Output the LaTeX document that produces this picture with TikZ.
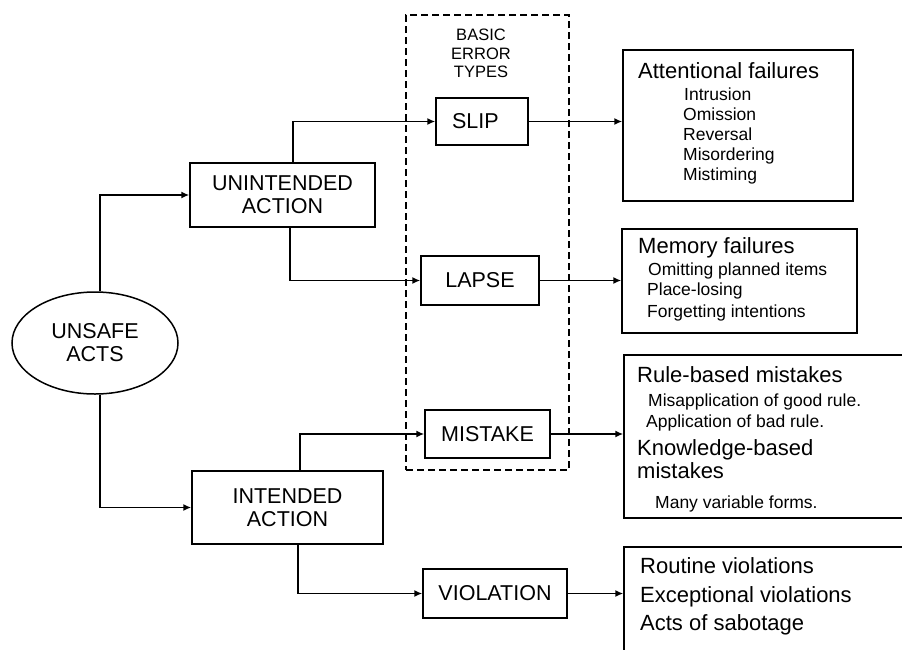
\documentclass[tikz,border=0pt]{standalone}
\usepackage{fontspec}
\setmainfont{Liberation Sans}
\usetikzlibrary{shapes.geometric,arrows.meta}
\begin{document}
\begin{tikzpicture}[x=1pt,y=-1pt,
  lbl/.style={font=\fontsize{21.5}{23}\selectfont,align=center},
  box/.style={draw,line width=1.5pt,rectangle,inner sep=0pt,lbl},
  rbox/.style={draw,line width=1.5pt,rectangle,inner sep=0pt},
  conn/.style={line width=1.5pt,-{Latex[length=8pt,width=7pt]}},
  hd/.style={anchor=base west,inner sep=0pt,font=\fontsize{22}{24}\selectfont},
  itm/.style={anchor=base west,inner sep=0pt,font=\fontsize{17.5}{20}\selectfont},
]
\clip (0,0) rectangle (902,649);
\fill[white] (0,0) rectangle (902,649);

% dashed frame
\node[draw,dash pattern=on 7pt off 4pt,line width=1.3pt,rectangle,minimum width=163pt,minimum height=455pt,inner sep=0pt] (frame) at (487.5,242.5) {};
\node[anchor=north,inner sep=0pt,align=center,font=\fontsize{16.5}{18.5}\selectfont] (bet) at (481,29) {BASIC\\ERROR\\TYPES};

% left nodes
\node[draw,ellipse,line width=1.5pt,minimum width=166pt,minimum height=102pt,inner sep=0pt,lbl] (unsafe) at (95,343) {UNSAFE\\ACTS};
\node[box,minimum width=185pt,minimum height=64pt] (unint) at (282.5,195) {UNINTENDED\\ACTION};
\node[box,minimum width=191pt,minimum height=73pt] (intend) at (287.5,507.5) {INTENDED\\ACTION};

% error types
\node[box,minimum width=92pt,minimum height=47pt,text width=92pt,align=left] (slip) at (482,121.5) {\hspace*{16pt}SLIP};
\node[box,minimum width=118pt,minimum height=49pt] (lapse) at (480,280.5) {LAPSE};
\node[box,minimum width=125pt,minimum height=48pt] (mistake) at (487.5,434) {MISTAKE};
\node[box,minimum width=144pt,minimum height=49pt] (violation) at (495,593.5) {VIOLATION};

% right boxes
\node[rbox,minimum width=230pt,minimum height=151pt] (att) at (738,125.5) {};
\node[rbox,minimum width=235pt,minimum height=104pt] (mem) at (739.5,281) {};
\node[rbox,minimum width=290pt,minimum height=163pt] (rule) at (769,436.5) {};
\node[rbox,minimum width=290pt,minimum height=133pt] (viol) at (769,613.5) {};

% texts of right boxes
\node[hd] (t1) at (638,78) {Attentional failures};
\node[itm] (t2) at (684,100) {Intrusion};
\node[itm] (t3) at (683,120) {Omission};
\node[itm] (t4) at (683,140) {Reversal};
\node[itm] (t5) at (683,160) {Misordering};
\node[itm] (t6) at (683,180) {Mistiming};

\node[hd] (m1) at (638,253) {Memory failures};
\node[itm] (m2) at (648,275) {Omitting planned items};
\node[itm] (m3) at (647,295) {Place-losing};
\node[itm] (m4) at (647,317) {Forgetting intentions};

\node[hd] (r1) at (637,382) {Rule-based mistakes};
\node[itm] (r2) at (648,406) {Misapplication of good rule.};
\node[itm] (r3) at (646,427) {Application of bad rule.};
\node[hd] (r4) at (637,455) {Knowledge-based};
\node[hd] (r5) at (637,478) {mistakes};
\node[itm] (r6) at (655,508) {Many variable forms.};

\node[hd] (v1) at (640,573) {Routine violations};
\node[hd] (v2) at (640,602) {Exceptional violations};
\node[hd] (v3) at (640,630) {Acts of sabotage};

% connectors
\draw[conn] ([xshift=5pt]unsafe.north) |- (unint.west);
\draw[conn] ([xshift=5pt]unsafe.south) |- (intend.west);
\draw[conn] ([xshift=10.5pt]unint.north) |- (slip.west);
\draw[conn] ([xshift=7.5pt]unint.south) |- (lapse.west);
\draw[conn] ([xshift=12.5pt]intend.north) |- (mistake.west);
\draw[conn] ([xshift=10.5pt]intend.south) |- (violation.west);
\draw[conn] (slip.east) -- (slip.east -| att.west);
\draw[conn] (lapse.east) -- (lapse.east -| mem.west);
\draw[conn] (mistake.east) -- (mistake.east -| rule.west);
\draw[conn] (violation.east) -- (violation.east -| viol.west);
\end{tikzpicture}
\end{document}
